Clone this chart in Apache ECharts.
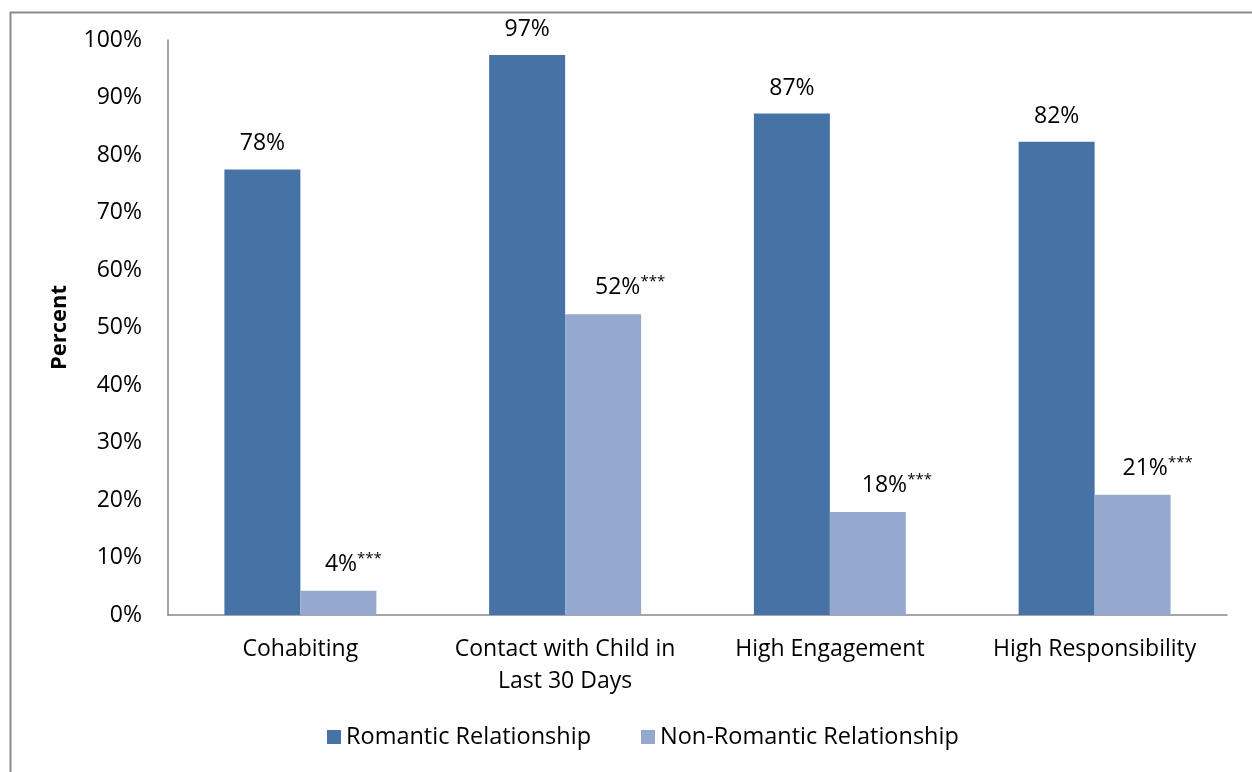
<!DOCTYPE html>
<html><head><meta charset="utf-8">
<script src="https://cdn.jsdelivr.net/npm/echarts@6/dist/echarts.min.js"></script>
<style>html,body{margin:0;padding:0;background:#fff}#c{width:1252px;height:772px}</style>
</head><body><div id="c"></div>
<script>
const categories = ['Cohabiting', 'Contact with Child in\nLast 30 Days', 'High Engagement', 'High Responsibility'];
const romantic = [77.5, 97.4, 87.2, 82.3];
const nonRomantic = [4.2, 52.3, 17.9, 20.9];
const romanticLabels = ['78%', '97%', '87%', '82%'];
const nonRomanticLabels = ['4%', '52%', '18%', '21%'];
const yTicks = [0, 10, 20, 30, 40, 50, 60, 70, 80, 90, 100];

const FONT = 'Open Sans';
// label x-shifts (style only)
const nrLabelShift = [15, 27, 29, 25];

const chart = echarts.init(document.getElementById('c'), null, {renderer: 'canvas'});
chart.setOption({
  animation: false,
  textStyle: {fontFamily: FONT},
  graphic: [{
    type: 'rect', left: 8, top: 10, silent: true,
    shape: {width: 1270, height: 800},
    style: {fill: 'none', stroke: '#8a8a8a', lineWidth: 2}
  }],
  grid: {left: 168, right: 25, top: 40, bottom: 157},
  legend: {
    bottom: 18, left: 322,
    itemWidth: 14, itemHeight: 14, itemGap: 50,
    icon: 'rect',
    textStyle: {fontFamily: FONT, fontSize: 23.5, color: '#000'},
    data: ['Romantic Relationship', 'Non-Romantic Relationship']
  },
  xAxis: {
    type: 'category', data: categories,
    axisLine: {lineStyle: {color: '#888', width: 1.5}},
    axisTick: {show: false},
    axisLabel: {fontFamily: FONT, fontSize: 23, color: '#000', margin: 18, lineHeight: 32, interval: 0}
  },
  yAxis: {
    type: 'value', min: 0, max: 100, interval: 10,
    name: 'Percent', nameLocation: 'middle', nameGap: 97, nameRotate: 90,
    nameTextStyle: {fontFamily: FONT, fontSize: 22, fontWeight: 'bold', color: '#000'},
    axisLine: {show: true, lineStyle: {color: '#888', width: 1.5}},
    axisTick: {show: false},
    splitLine: {show: false},
    axisLabel: {fontFamily: FONT, fontSize: 23, color: '#000', margin: 26,
      formatter: v => yTicks.includes(v) ? v + '%' : ''}
  },
  series: [{
    name: 'Romantic Relationship', type: 'bar', data: romantic,
    barGap: '0%', barCategoryGap: '42.6%',
    itemStyle: {color: '#4672A6'},
    label: {show: true, position: 'top', distance: 14, fontFamily: FONT, fontSize: 23, color: '#000',
      formatter: p => romanticLabels[p.dataIndex]}
  }, {
    name: 'Non-Romantic Relationship', type: 'bar',
    data: nonRomantic.map((v, i) => ({value: v, label: {offset: [nrLabelShift[i], 0]}})),
    barGap: '0%', barCategoryGap: '42.6%',
    itemStyle: {color: '#95A9CF'},
    label: {show: true, position: 'top', distance: 13, fontFamily: FONT, fontSize: 23, color: '#000',
      formatter: p => nonRomanticLabels[p.dataIndex] + '{s|***}',
      rich: {s: {fontFamily: FONT, fontSize: 15, color: '#000', verticalAlign: 'top', padding: [0, 0, 12, 0]}}}
  }]
});
</script></body></html>
